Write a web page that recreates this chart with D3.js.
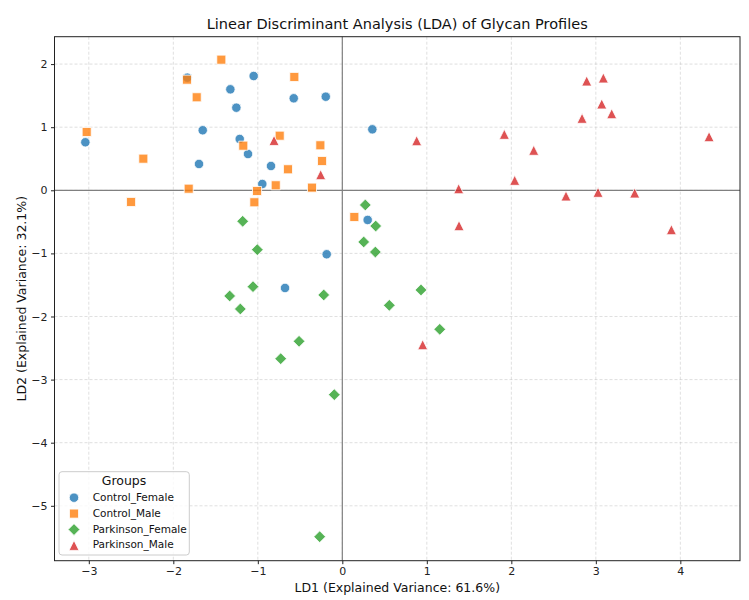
<!DOCTYPE html>
<html>
<head>
<meta charset="utf-8">
<script src="https://cdn.jsdelivr.net/npm/d3@7"></script>
<style>
  body { margin: 0; background: #fff; }
  text { font-family: "DejaVu Sans", sans-serif; }
</style>
</head>
<body>
<script>
// group names in plotting order
var groups = ["Control_Female", "Control_Male", "Parkinson_Female", "Parkinson_Male"];

// LD1 / LD2 scores
var controlFemaleX = [-1.834, -1.049, -1.325, -0.575, -0.196, -1.254, -1.652, -3.041, -1.214, -1.116, -1.696, -0.844, -0.947, -0.185, 0.355, 0.300, -0.678];
var controlFemaleY = [1.785, 1.811, 1.600, 1.458, 1.483, 1.309, 0.951, 0.761, 0.813, 0.575, 0.417, 0.385, 0.100, -1.014, 0.966, -0.470, -1.548];

var controlMaleX = [-1.432, -1.838, -0.568, -1.723, -3.025, -0.741, -1.172, -0.260, -0.240, -2.355, -0.643, -1.818, -0.788, -0.359, -1.009, -2.500, -1.041, 0.142];
var controlMaleY = [2.070, 1.753, 1.796, 1.474, 0.924, 0.865, 0.707, 0.713, 0.464, 0.501, 0.333, 0.025, 0.079, 0.042, -0.011, -0.185, -0.190, -0.423];

var parkFemaleX = [0.272, -1.179, 0.395, 0.253, 0.391, -1.006, -1.057, -1.333, -0.220, 0.931, 0.556, -1.207, 1.153, -0.512, -0.729, -0.095, -0.268];
var parkFemaleY = [-0.233, -0.491, -0.566, -0.819, -0.978, -0.941, -1.527, -1.675, -1.659, -1.580, -1.823, -1.881, -2.203, -2.393, -2.669, -3.239, -5.490];

var parkMaleX = [-0.808, -0.256, 2.892, 3.089, 3.070, 3.188, 2.837, 0.880, 1.917, 2.265, 4.340, 2.040, 1.377, 2.647, 3.026, 3.460, 1.381, 3.894, 0.951];
var parkMaleY = [0.790, 0.248, 1.732, 1.780, 1.368, 1.214, 1.141, 0.786, 0.887, 0.634, 0.850, 0.158, 0.025, -0.090, -0.032, -0.043, -0.560, -0.624, -2.447];

var xTicks = [-3, -2, -1, 0, 1, 2, 3, 4];
var yTicks = [-5, -4, -3, -2, -1, 0, 1, 2];

// matplotlib style triangle, centred on its bounding box
var triUp = {
  draw: function(ctx, size) {
    var h = Math.sqrt(size) / 2;
    ctx.moveTo(0, -h);
    ctx.lineTo(h, h);
    ctx.lineTo(-h, h);
    ctx.closePath();
  }
};

var colors = ["#1f77b4", "#ff7f0e", "#2ca02c", "#d62728"];
var symbols = [d3.symbolCircle, d3.symbolSquare, d3.symbolDiamond2, triUp];
var sizes = [70, 82, 88, 100];

var series = [
  [controlFemaleX, controlFemaleY],
  [controlMaleX, controlMaleY],
  [parkFemaleX, parkFemaleY],
  [parkMaleX, parkMaleY]
];

var W = 749, H = 600;
var pL = 54.5, pR = 740, pT = 36.7, pB = 560.7;

var svg = d3.select("body").append("svg")
  .attr("width", W).attr("height", H);

var x = d3.scaleLinear().domain([-3.406, 4.706]).range([pL, pR]);
var y = d3.scaleLinear().domain([-5.87, 2.434]).range([pB, pT]);

var fmt = function(d) { return String(d).replace("-", "\u2212"); };

// grid
var grid = svg.append("g");
grid.selectAll(".gx").data(xTicks).enter().append("line")
  .attr("x1", function(d) { return x(d); }).attr("x2", function(d) { return x(d); })
  .attr("y1", pT).attr("y2", pB)
  .attr("stroke", "#b0b0b0").attr("stroke-opacity", 0.5)
  .attr("stroke-dasharray", "3,2").attr("stroke-width", 0.8);
grid.selectAll(".gy").data(yTicks).enter().append("line")
  .attr("y1", function(d) { return y(d); }).attr("y2", function(d) { return y(d); })
  .attr("x1", pL).attr("x2", pR)
  .attr("stroke", "#b0b0b0").attr("stroke-opacity", 0.5)
  .attr("stroke-dasharray", "3,2").attr("stroke-width", 0.8);

// zero lines
svg.append("line").attr("x1", pL).attr("x2", pR)
  .attr("y1", y(0)).attr("y2", y(0))
  .attr("stroke", "#808080").attr("stroke-width", 1.2);
svg.append("line").attr("y1", pT).attr("y2", pB)
  .attr("x1", x(0)).attr("x2", x(0))
  .attr("stroke", "#808080").attr("stroke-width", 1.2);

// points
series.forEach(function(s, i) {
  var pts = s[0].map(function(v, j) { return [v, s[1][j]]; });
  svg.append("g").selectAll("path").data(pts).enter().append("path")
    .attr("d", d3.symbol().type(symbols[i]).size(sizes[i]))
    .attr("transform", function(d) { return "translate(" + x(d[0]) + "," + y(d[1]) + ")"; })
    .attr("fill", colors[i]).attr("fill-opacity", 0.8)
    .attr("stroke", "#fff").attr("stroke-width", 0.8);
});

// frame
svg.append("rect").attr("x", pL).attr("y", pT)
  .attr("width", pR - pL).attr("height", pB - pT)
  .attr("fill", "none").attr("stroke", "#222").attr("stroke-width", 1);

// axes
var xAxis = svg.append("g").attr("transform", "translate(0," + pB + ")")
  .call(d3.axisBottom(x).tickValues(xTicks).tickFormat(fmt).tickSize(3.5).tickPadding(3.5));
var yAxis = svg.append("g").attr("transform", "translate(" + pL + ",0)")
  .call(d3.axisLeft(y).tickValues(yTicks).tickFormat(fmt).tickSize(3.5).tickPadding(3.5));
[xAxis, yAxis].forEach(function(a) {
  a.select(".domain").remove();
  a.selectAll("line").attr("stroke", "#222");
  a.selectAll("text").attr("font-family", "DejaVu Sans").attr("font-size", 11).attr("fill", "#222");
});

// labels
svg.append("text").attr("x", (pL + pR) / 2).attr("y", 24.5)
  .attr("text-anchor", "middle").attr("dominant-baseline", "middle")
  .attr("font-size", 14.5).attr("fill", "#111")
  .text("Linear Discriminant Analysis (LDA) of Glycan Profiles");
svg.append("text").attr("x", (pL + pR) / 2).attr("y", 592)
  .attr("text-anchor", "middle").attr("font-size", 12.5).attr("fill", "#111")
  .text("LD1 (Explained Variance: 61.6%)");
svg.append("text")
  .attr("transform", "translate(26," + ((pT + pB) / 2) + ") rotate(-90)")
  .attr("text-anchor", "middle").attr("font-size", 12.5).attr("fill", "#111")
  .text("LD2 (Explained Variance: 32.1%)");

// legend
var lg = svg.append("g");
lg.append("rect").attr("x", 59).attr("y", 471.7).attr("width", 130.3).attr("height", 83.3)
  .attr("rx", 3).attr("fill", "#fff").attr("fill-opacity", 0.8)
  .attr("stroke", "#ccc").attr("stroke-width", 1);
lg.append("text").attr("x", 124).attr("y", 481).attr("dominant-baseline", "middle")
  .attr("text-anchor", "middle").attr("font-size", 12.5).attr("fill", "#111").text("Groups");
groups.forEach(function(g, i) {
  var yy = 497.7 + i * 15.9;
  lg.append("path")
    .attr("d", d3.symbol().type(symbols[i]).size(sizes[i]))
    .attr("transform", "translate(74," + yy + ")")
    .attr("fill", colors[i]).attr("fill-opacity", 0.8)
    .attr("stroke", "#fff").attr("stroke-width", 0.8);
  lg.append("text").attr("x", 92.7).attr("y", yy).attr("dominant-baseline", "middle")
    .attr("font-size", 10.5).attr("fill", "#111").text(g);
});
</script>
</body>
</html>
